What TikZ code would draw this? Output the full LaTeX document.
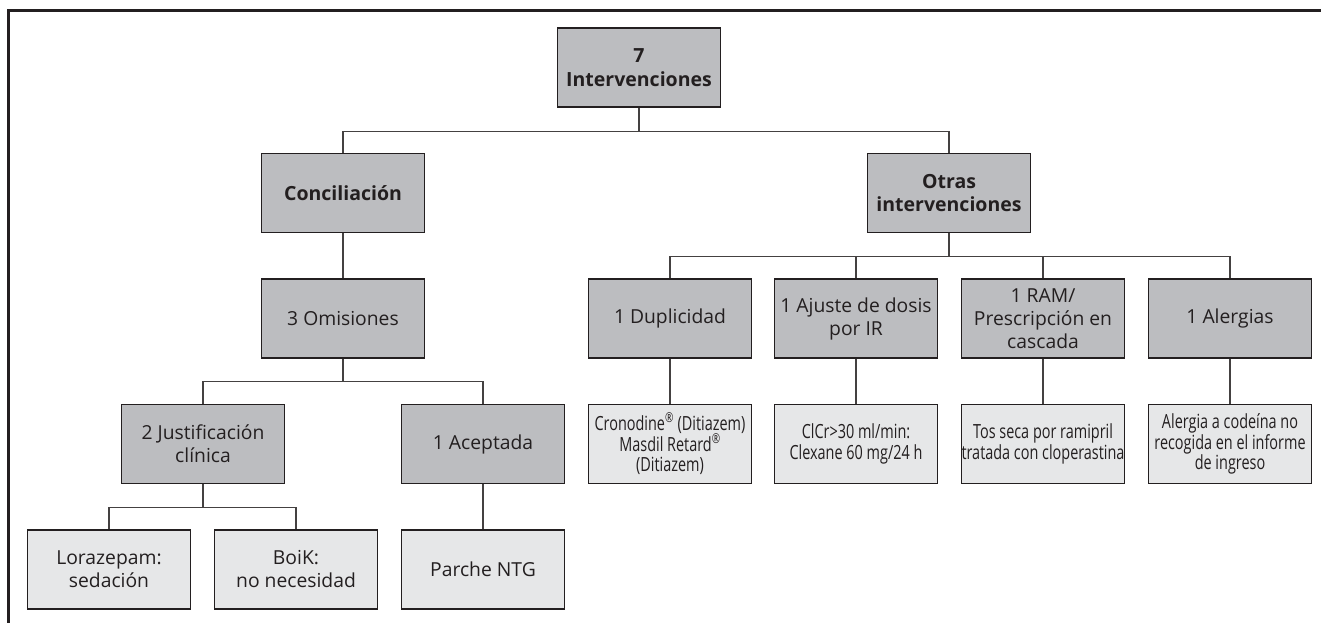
\documentclass[tikz,border=0pt]{standalone}
\usepackage{fontspec}
\setmainfont{Open Sans}
\newfontfamily\condf{Open Sans}[FakeStretch=0.74]
\definecolor{dk}{HTML}{BCBDC0}
\definecolor{lt}{HTML}{E6E7E8}
\definecolor{ink}{HTML}{231F20}
\tikzset{
  box/.style={draw=ink, line width=1.5pt, minimum width=163pt, minimum height=79pt, inner sep=0pt, align=center, text=ink},
  darkbox/.style={box, fill=dk, font=\fontsize{19.3}{23}\selectfont},
  boldbox/.style={box, fill=dk, font=\fontsize{19.5}{23.5}\selectfont\bfseries},
  leafbox/.style={box, fill=lt, font=\fontsize{19.3}{23}\selectfont},
  condbox/.style={box, fill=lt, font=\condf\fontsize{19.5}{20.8}\selectfont},
  conn/.style={draw=ink!85, line width=1.4pt},
  frameline/.style={draw=ink, line width=3pt}
}
\begin{document}
\begin{tikzpicture}[x=1pt,y=-1pt]
\useasboundingbox (0,0) rectangle (1321,623);
\draw[frameline] (1321,11) -- (8,11) -- (8,623);

\node[boldbox] (top) at (639,67.5) {7\\Intervenciones};
\node[boldbox] (conc) at (343,193) {Conciliación};
\node[boldbox] (otras) at (949,193) {Otras\\intervenciones};
\node[darkbox] (omis) at (343,318.5) {3 Omisiones};
\node[darkbox] (dup) at (670,318.5) {1 Duplicidad};
\node[darkbox] (ajus) at (856,318.5) {1 Ajuste de dosis\\por IR};
\node[darkbox] (ram) at (1043,318.5) {1 RAM/\\Prescripción en\\cascada};
\node[darkbox] (alerg) at (1230,318.5) {1 Alergias};
\node[darkbox] (just) at (203,444) {2 Justificación\\clínica};
\node[darkbox] (acep) at (483,444) {1 Aceptada};
\node[condbox] (cron) at (670,444) {Cronodine\textsuperscript{®} (Ditiazem)\\Masdil Retard\textsuperscript{®}\\(Ditiazem)};
\node[condbox] (clcr) at (856,444) {ClCr>30 ml/min:\\Clexane 60 mg/24 h};
\node[condbox] (tos) at (1043,444) {Tos seca por ramipril\\tratada con cloperastina};
\node[condbox] (alc) at (1230,444) {Alergia a codeína no\\recogida en el informe\\de ingreso};
\node[leafbox] (lora) at (109,569.5) {Lorazepam:\\sedación};
\node[leafbox] (boik) at (296,569.5) {BoiK:\\no necesidad};
\node[leafbox] (parche) at (483,569.5) {Parche NTG};

\draw[conn] (top.south) -- ++(0,23.5) -| (conc.north);
\draw[conn] (top.south) -- ++(0,23.5) -| (otras.north);
\draw[conn] (conc.south) -- (omis.north);
\foreach \c in {dup,ajus,ram,alerg} \draw[conn] (otras.south) -- ++(0,23) -| (\c.north);
\draw[conn] (omis.south) -- ++(0,23) -| (just.north);
\draw[conn] (omis.south) -- ++(0,23) -| (acep.north);
\draw[conn] (just.south) -- ++(0,23) -| (lora.north);
\draw[conn] (just.south) -- ++(0,23) -| (boik.north);
\draw[conn] (acep.south) -- (parche.north);
\draw[conn] (dup.south) -- (cron.north);
\draw[conn] (ajus.south) -- (clcr.north);
\draw[conn] (ram.south) -- (tos.north);
\draw[conn] (alerg.south) -- (alc.north);
\end{tikzpicture}
\end{document}
